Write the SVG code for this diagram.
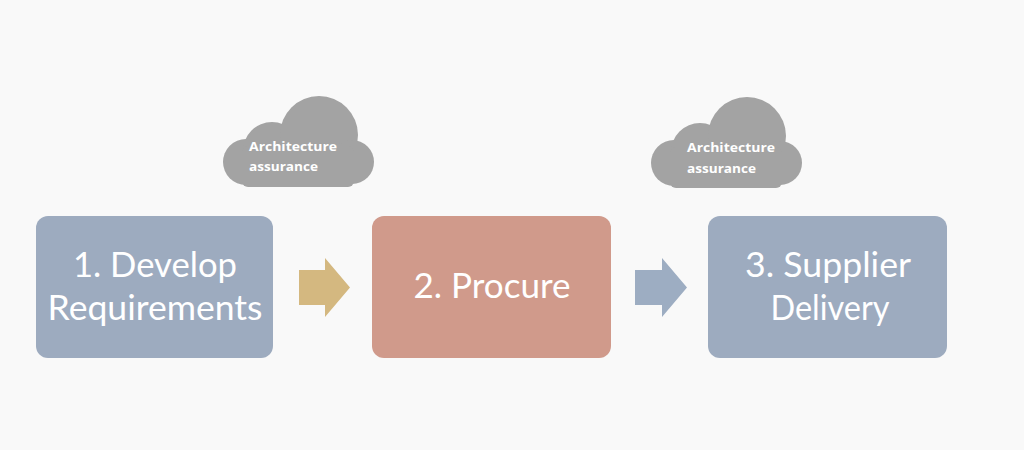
<svg xmlns="http://www.w3.org/2000/svg" width="1024" height="450" viewBox="0 0 1024 450">
<style>
.box{stroke:none}
.blue{fill:#9dabbf}
.red{fill:#d09a8b}
.cloud{fill:#a3a3a3}
.lbl{font-family:Lato,"Open Sans","Liberation Sans",sans-serif;font-size:35px;fill:#ffffff;text-anchor:middle}
.cl{font-family:"Open Sans","Liberation Sans",sans-serif;font-size:12.5px;font-weight:bold;fill:#ffffff}
</style>
<defs>
<g id="cloudShape">
<circle cx="24" cy="66" r="23"/>
<circle cx="50" cy="55" r="29"/>
<circle cx="97" cy="39" r="39"/>
<circle cx="130" cy="66" r="22"/>
<rect x="20" y="50" width="112" height="41" rx="6"/>
</g>
</defs>
<rect width="1024" height="450" fill="#f9f9f9"/>
<g id="cloud1" class="cloud">
<use href="#cloudShape" transform="translate(222,96)"/>
<text class="cl" x="249" y="151" textLength="88" lengthAdjust="spacingAndGlyphs">Architecture</text>
<text class="cl" x="249" y="171" textLength="69" lengthAdjust="spacingAndGlyphs">assurance</text>
</g>
<g id="cloud2" class="cloud">
<use href="#cloudShape" transform="translate(650,97)"/>
<text class="cl" x="687" y="152" textLength="88" lengthAdjust="spacingAndGlyphs">Architecture</text>
<text class="cl" x="687" y="173" textLength="69" lengthAdjust="spacingAndGlyphs">assurance</text>
</g>
<g id="node1">
<rect class="box blue" x="36" y="216" width="237" height="142" rx="12"/>
<text class="lbl" x="155" y="277" textLength="164" lengthAdjust="spacingAndGlyphs">1. Develop</text>
<text class="lbl" x="155" y="320" textLength="215" lengthAdjust="spacingAndGlyphs">Requirements</text>
</g>
<g id="node2">
<rect class="box red" x="372" y="216" width="239" height="142" rx="12"/>
<text class="lbl" x="492" y="298" textLength="157" lengthAdjust="spacingAndGlyphs">2. Procure</text>
</g>
<g id="node3">
<rect class="box blue" x="708" y="216" width="239" height="142" rx="12"/>
<text class="lbl" x="828" y="277" textLength="166" lengthAdjust="spacingAndGlyphs">3. Supplier</text>
<text class="lbl" x="830" y="320" textLength="119" lengthAdjust="spacingAndGlyphs">Delivery</text>
</g>
<g id="connectors">
<polygon fill="#d4b880" points="299,270 325,270 325,258 350,287.5 325,317 325,305 299,305"/>
<polygon fill="#9dadc2" points="635,270 662,270 662,258 687,287.5 662,317 662,305 635,305"/>
</g>
</svg>
